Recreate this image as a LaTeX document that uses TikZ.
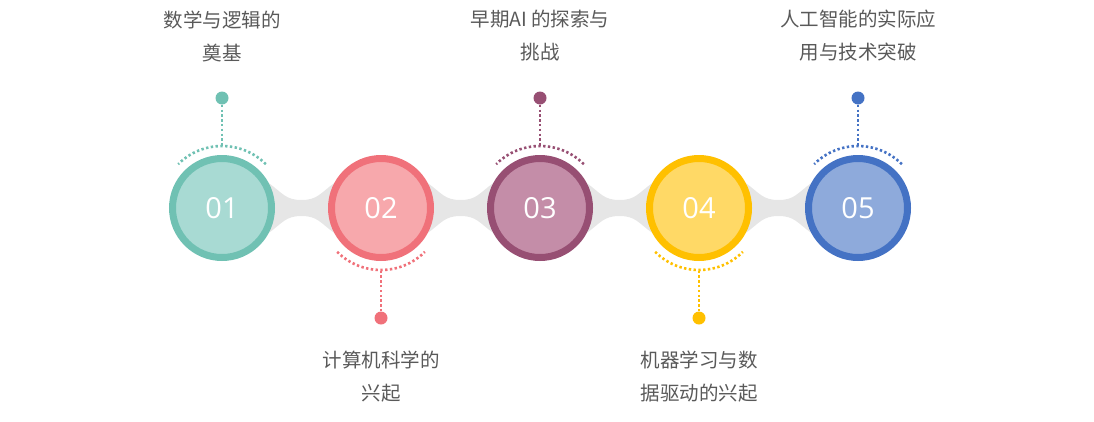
\documentclass[tikz,border=0pt]{standalone}
\usepackage{fontspec}
\setmainfont{Open Sans}
\newfontfamily\cjk{Noto Sans CJK SC}
\usetikzlibrary{calc,backgrounds}

\definecolor{tealO}{HTML}{70C1B3}
\definecolor{tealI}{HTML}{A8DAD3}
\definecolor{redO}{HTML}{F0717A}
\definecolor{redI}{HTML}{F7A8AC}
\definecolor{plumO}{HTML}{974F73}
\definecolor{plumI}{HTML}{C48DA8}
\definecolor{goldO}{HTML}{FFC000}
\definecolor{goldI}{HTML}{FFD966}
\definecolor{blueO}{HTML}{4472C4}
\definecolor{blueI}{HTML}{8EAADB}
\definecolor{txt}{HTML}{595959}
\definecolor{neck}{HTML}{E6E6E6}

\tikzset{
  ring/.style={circle, minimum size=99pt, inner sep=0pt, line width=7pt, text=white, font=\fontsize{29}{29}\selectfont},
  bridge/.style={fill=neck},
  pin/.style={circle, minimum size=13pt, inner sep=0pt},
  dots/.style={line width=2.6pt, dash pattern=on 2.4pt off 2.4pt},
  lbl/.style={align=center, text=txt, font=\cjk\fontsize{19.5}{33}\selectfont}
}

\begin{document}
\begin{tikzpicture}[x=1pt,y=1pt]
\useasboundingbox (0,0) rectangle (1094,-421);

\node[ring, draw=tealO, fill=tealI] (a) at (222,-208) {01};
\node[ring, draw=redO, fill=redI] (b) at (381,-208) {02};
\node[ring, draw=plumO, fill=plumI] (c) at (540,-208) {03};
\node[ring, draw=goldO, fill=goldI] (d) at (699,-208) {04};
\node[ring, draw=blueO, fill=blueI] (e) at (858,-208) {05};

\begin{pgfonlayer}{background}
\foreach \from/\to in {a/b,b/c,c/d,d/e}
  \fill[bridge] (\from.28) .. controls +(14,-10) and +(-16,0) .. ($(\from)!0.5!(\to)+(0,8)$)
    .. controls +(16,0) and +(-14,-10) .. (\to.152) -- (\to.208)
    .. controls +(-14,10) and +(16,0) .. ($(\from)!0.5!(\to)+(0,-8)$)
    .. controls +(-16,0) and +(14,10) .. (\from.332) -- cycle;
\end{pgfonlayer}

% pins above
\node[pin, fill=tealO] (pa) at (222,-98) {};
\node[pin, fill=plumO] (pc) at (540,-98) {};
\node[pin, fill=blueO] (pe) at (858,-98) {};
% pins below
\node[pin, fill=redO] (pb) at (381,-318) {};
\node[pin, fill=goldO] (pd) at (699,-318) {};

\coordinate (ta) at ($(a)+(0,62)$);
\coordinate (tc) at ($(c)+(0,62)$);
\coordinate (te) at ($(e)+(0,62)$);
\coordinate (tb) at ($(b)+(0,-62)$);
\coordinate (td) at ($(d)+(0,-62)$);

\draw[dots, tealO] ($(a)+(45:62)$) arc[start angle=45, end angle=135, radius=62];
\draw[dots, plumO] ($(c)+(45:62)$) arc[start angle=45, end angle=135, radius=62];
\draw[dots, blueO] ($(e)+(45:62)$) arc[start angle=45, end angle=135, radius=62];
\draw[dots, redO] ($(b)+(225:62)$) arc[start angle=225, end angle=315, radius=62];
\draw[dots, goldO] ($(d)+(225:62)$) arc[start angle=225, end angle=315, radius=62];

\foreach \p/\t/\col in {pa/ta/tealO,pb/tb/redO,pc/tc/plumO,pd/td/goldO,pe/te/blueO}
  \draw[dots, \col] (\p) -- (\t);

\node[lbl] (la) at (222,-36) {数学与逻辑的\\奠基};
\node[lbl] (lc) at (540,-36) {早期AI 的探索与\\挑战};
\node[lbl] (le) at (858,-36) {人工智能的实际应\\用与技术突破};
\node[lbl] (lb) at (381,-377) {计算机科学的\\兴起};
\node[lbl] (ld) at (699,-377) {机器学习与数\\据驱动的兴起};
\end{tikzpicture}
\end{document}
